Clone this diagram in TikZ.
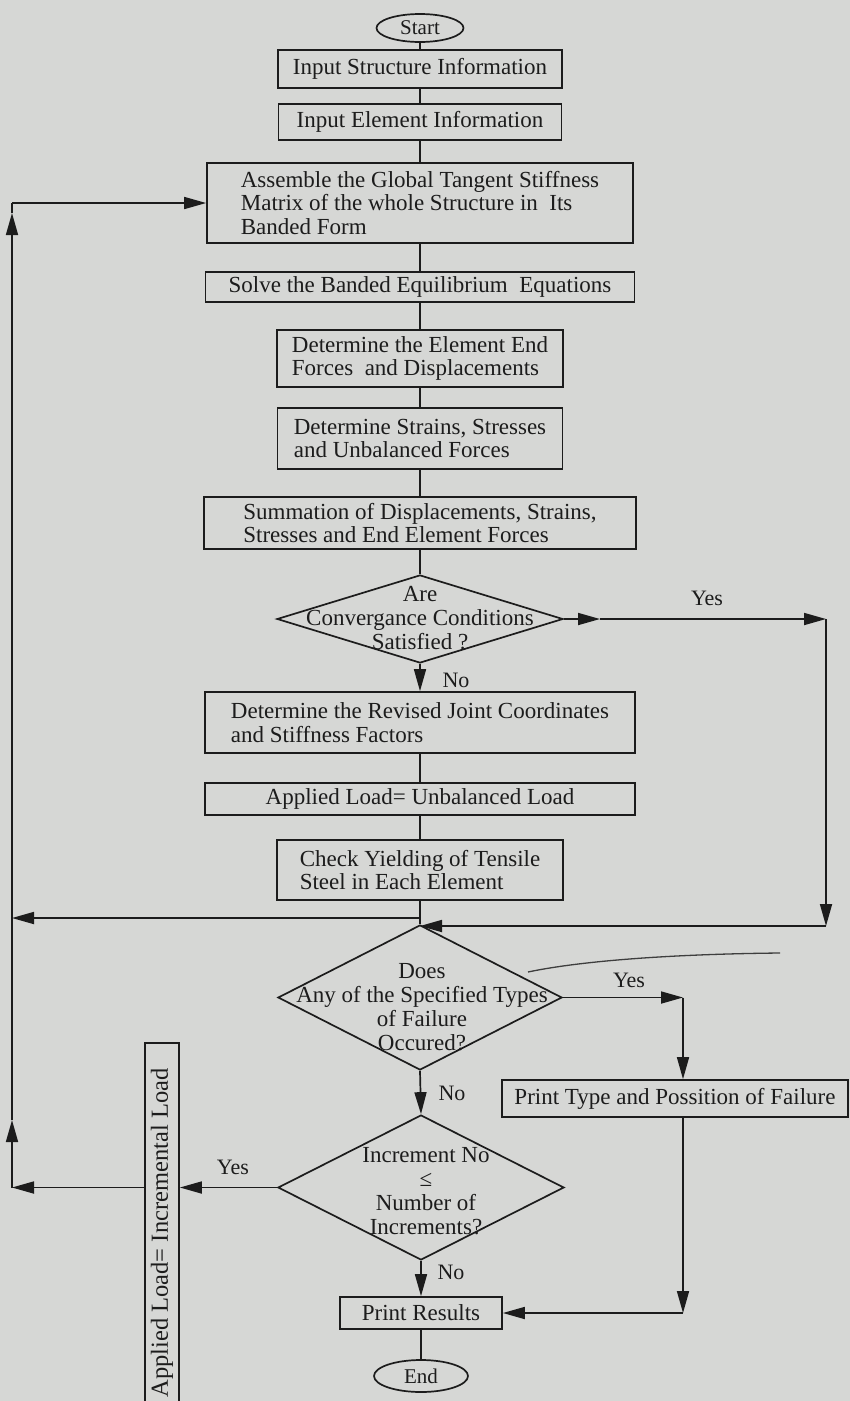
\documentclass[tikz,border=0pt]{standalone}
\usepackage{fontspec}
\setmainfont{Liberation Serif}
\usetikzlibrary{shapes.geometric,arrows.meta,calc}
\definecolor{paper}{RGB}{214,215,213}
\definecolor{ink}{RGB}{28,28,28}
\begin{document}
\begin{tikzpicture}[x=1pt,y=-1pt,
  every node/.style={text=ink},
  box/.style={draw=ink, line width=1.7pt, rectangle, inner sep=2pt, align=left, font=\fontsize{23}{23.5}\selectfont},
  term/.style={draw=ink, line width=1.7pt, ellipse, inner sep=0pt, font=\fontsize{21}{22}\selectfont},
  dia/.style={draw=ink, line width=1.7pt, diamond, inner sep=0pt},
  dtext/.style={align=center, font=\fontsize{23}{24}\selectfont, inner sep=0pt},
  lab/.style={font=\fontsize{22}{22}\selectfont, inner sep=0pt},
  con/.style={draw=ink, line width=1.7pt},
  arr/.style={con, -{Triangle[length=22pt,width=12pt]}},
  scribble/.style={draw=ink!85, line width=1.3pt}
]
\useasboundingbox (0,0) rectangle (850,1401);
\clip (0,0) rectangle (850,1401);
\fill[paper] (0,0) rectangle (850,1401);

% nodes
\node[term, minimum width=87pt, minimum height=28pt] (start) at (420,28) {Start};
\node[box, minimum width=284pt, minimum height=38pt] (ins) at (420,69) {Input Structure Information};
\node[box, minimum width=283pt, minimum height=36pt] (iel) at (420,122) {Input Element Information};
\node[box, minimum width=426pt, minimum height=80pt] (asm) at (420,203) {Assemble the Global Tangent Stiffness\\Matrix of the whole Structure in\ \ Its\\Banded Form};
\node[box, minimum width=429pt, minimum height=30pt] (solve) at (420,287) {Solve the Banded Equilibrium\ \ Equations};
\node[box, minimum width=286pt, minimum height=57pt] (detel) at (420,358.5) {Determine the Element End\\Forces\ \ and Displacements};
\node[box, minimum width=285pt, minimum height=61pt] (strn) at (420,438.5) {Determine Strains, Stresses\\and Unbalanced Forces};
\node[box, minimum width=432pt, minimum height=52pt] (summ) at (420,523) {Summation of Displacements, Strains,\\Stresses and End Element Forces};
\node[dia, minimum width=286pt, minimum height=88pt] (d1) at (420,619) {};
\node[dtext] (d1t) at (420,618) {Are\\Convergance Conditions\\Satisfied ?};
\node[box, minimum width=430pt, minimum height=61pt] (rev) at (420,722.5) {Determine the Revised Joint Coordinates\\and Stiffness Factors};
\node[box, minimum width=430pt, minimum height=32pt] (appl) at (420,799) {Applied Load= Unbalanced Load};
\node[box, minimum width=286pt, minimum height=60pt] (chk) at (420,870) {Check Yielding of Tensile\\Steel in Each Element};
\node[dia, minimum width=284pt, minimum height=145pt] (d2) at (420,997.5) {};
\node[dtext] (d2t) at (422,1007) {Does\\Any of the Specified Types\\of Failure\\Occured?};
\node[box, minimum width=346pt, minimum height=37pt] (ptype) at (675,1098.5) {Print Type and Possition of Failure};
\node[dia, minimum width=286pt, minimum height=145pt] (d3) at (421,1187.5) {};
\node[dtext] (d3t) at (426,1191) {Increment No\\≤\\Number of\\Increments?};
\node[box, minimum width=162pt, minimum height=32pt] (pres) at (421,1313) {Print Results};
\node[term, minimum width=94pt, minimum height=32pt] (end) at (421,1376) {End};
\node[box, rotate=90, align=center, minimum width=380pt, minimum height=34pt, font=\fontsize{24.5}{25}\selectfont] (rot) at (162,1233) {Applied Load= Incremental Load};

% labels
\node[lab] (yes1) at (707,598) {Yes};
\node[lab] (no1) at (456,680) {No};
\node[lab] (yes2) at (629,980) {Yes};
\node[lab] (no2) at (452,1093) {No};
\node[lab] (yes3) at (233,1167) {Yes};
\node[lab] (no3) at (451,1272) {No};

% coordinates
\coordinate (y1a) at (600,619);
\coordinate (y1b) at (826,619);
\coordinate (y1c) at (826,926);
\coordinate (jl) at (420,918);
\coordinate (l1) at (12,918);
\coordinate (lb) at (12,1187.5);
\coordinate (lm) at (12,1120);
\coordinate (lu) at (12,213);
\coordinate (y2a) at (683,997.5);

% main column
\draw[con] (start.south) -- (ins.north);
\draw[con] (ins.south) -- (iel.north);
\draw[con] (iel.south) -- (asm.north);
\draw[con] (asm.south) -- (solve.north);
\draw[con] (solve.south) -- (detel.north);
\draw[con] (detel.south) -- (strn.north);
\draw[con] (strn.south) -- (summ.north);
\draw[con] (summ.south) -- (d1.north);
\draw[arr] (d1.south) -- (rev.north);
\draw[con] (rev.south) -- (appl.north);
\draw[con] (appl.south) -- (chk.north);
\draw[con] (chk.south) -- (d2.north);
\draw[arr] (d2.south) -- (d3.north);
\draw[arr] (d3.south) -- (pres.north);
\draw[con] (pres.south) -- (end.north);

% convergence yes loop
\draw[arr] (d1.east) -- (y1a);
\draw[arr] (y1a) -- (y1b);
\draw[arr] (y1b) -- (y1c);
\draw[arr] (y1c) -- (y1c -| d2.north);

% left return lines
\draw[arr] (jl) -- (l1);
\draw[arr] (lb) -- (lm);
\draw[arr] (lm) -- (lu);
\draw[con] (lu) -- (asm.west -| lu);
\draw[arr] (asm.west -| lu) -- (asm.west);

% increment yes
\draw[arr] (d3.west) -- (d3.west -| rot.south);
\draw[arr] (d3.west -| rot.north) -- (lb);

% failure yes
\draw[arr] (d2.east) -- (y2a);
\draw[arr] (y2a) -- (y2a |- ptype.north);
\draw[arr] (y2a |- ptype.south) -- (pres.east -| y2a);
\draw[arr] (pres.east -| y2a) -- (pres.east);

% pen stroke
\draw[scribble] (528,972) .. controls (585,960) and (680,954) .. (780,953);
\end{tikzpicture}
\end{document}
